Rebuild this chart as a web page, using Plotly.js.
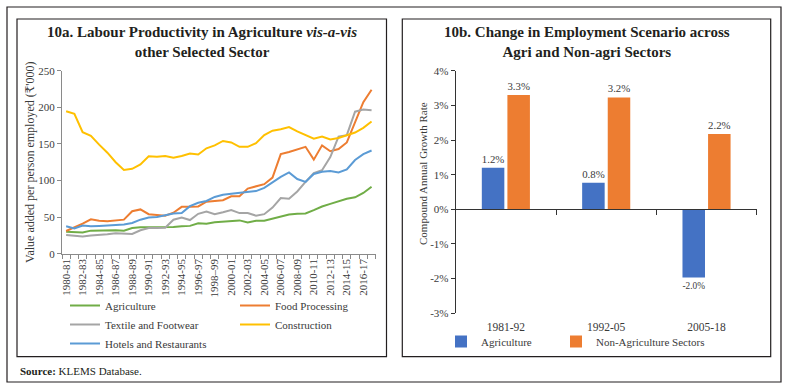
<!DOCTYPE html>
<html><head><meta charset="utf-8">
<script src="https://cdn.plot.ly/plotly-3.0.1.min.js"></script>
<style>html,body{margin:0;padding:0;background:#fff}#chart{width:788px;height:389px}</style>
</head><body><div id="chart"></div>
<script>
// ---------- Data: 10a ----------
const years = ["1980-81","1981-82","1982-83","1983-84","1984-85","1985-86","1986-87","1987-88","1988-89","1989-90",
  "1990-91","1991-92","1992-93","1993-94","1994-95","1995-96","1996-97","1997-98","1998-99","1999-00",
  "2000-01","2001-02","2002-03","2003-04","2004-05","2005-06","2006-07","2007-08","2008-09","2009-10",
  "2010-11","2011-12","2012-13","2013-14","2014-15","2015-16","2016-17","2017-18"];
const tickLabels = ["1980-81","1982-83","1984-85","1986-87","1988-89","1990-91","1992-93","1994-95","1996-97","1998\u201399",
  "2000-01","2002-03","2004-05","2006-07","2008-09","2010-11","2012-13","2014-15","2016-17"];
const agriculture = [30,30,29,31.5,32,32,32,31.5,35,36,36,35.5,35.5,36.5,37.5,38,41.5,41,43,44,44.5,45.5,42.5,45,45,47.5,50,53.5,54.5,55,59.5,64.5,68,72,75,77,83,91.5];
const foodProcessing = [31,35.5,41,47,45,44.5,45,46.5,58,60.5,54,52.5,52,56,64,64,64.5,71,72,73,78.5,78.5,89,92.5,95,104,136,139,142,146,128.5,148,140,143,152,180,207,224];
const textileFootwear = [25.5,24.5,23.5,25,25.5,26.5,28,27,27,32,35,35,35.5,46.5,49.5,46,54.5,57.5,54,56.5,59.5,55.5,55.5,52,54,63,76,75,85,98,110,114,132,160,162,194,197,196];
const construction = [194.5,191,166,161,149,138,125,114.5,116,122,133,132.5,133.5,131,133.5,137,135.5,144,148,154,152,146,146,151,162,168,170,173,167,162,157,160,156,158,162,165.5,172,180.5];
const hotelsRestaurants = [37.5,34.5,38.5,37.5,38,38.5,39,40,42,46.5,49.5,50,52.5,55,55.5,65,69.5,72,77.5,80.5,82,83,83.5,85.5,90,98,105,111,102,98,109,112,113,111,115,128,136,141];

// ---------- Data: 10b ----------
const periods = ["1981-92","1992-05","2005-18"];
const agriGrowth = [1.2, 0.77, -1.97];
const nonAgriGrowth = [3.3, 3.23, 2.17];
const growthTicks = [-3, -2, -1, 0, 1, 2, 3, 4];

// ---------- helpers ----------
const W = 788, H = 389;
const px = x => x / W;
const py = y => 1 - y / H;
const FONT = 'Liberation Serif, DejaVu Serif, serif';
const TXT = '#3a3a3a';
const AX = '#8a8a8a';
const pct = v => v.toFixed(1) + '%';

const lineTrace = (name, y, color, legend) => ({
  type: 'scatter', mode: 'lines', name, x: years, y,
  line: {color, width: 2}, xaxis: 'x', yaxis: 'y', legend
});

const barText = {family: FONT, size: 11, color: TXT};
const data = [
  lineTrace('Agriculture', agriculture, '#70AD47', 'legend'),
  lineTrace('Food Processing', foodProcessing, '#ED7D31', 'legend2'),
  lineTrace('Textile and Footwear', textileFootwear, '#A5A5A5', 'legend'),
  lineTrace('Construction', construction, '#FFC000', 'legend2'),
  lineTrace('Hotels and Restaurants', hotelsRestaurants, '#5B9BD5', 'legend'),
  {type: 'bar', name: 'Agriculture', x: periods, y: agriGrowth, xaxis: 'x2', yaxis: 'y2',
   marker: {color: '#4472C4'}, legend: 'legend3',
   text: agriGrowth.map(pct), textposition: 'outside', cliponaxis: false, textfont: barText},
  {type: 'bar', name: 'Non-Agriculture Sectors', x: periods, y: nonAgriGrowth, xaxis: 'x2', yaxis: 'y2',
   marker: {color: '#ED7D31'}, legend: 'legend4',
   text: nonAgriGrowth.map(pct), textposition: 'outside', cliponaxis: false, textfont: barText},
  // invisible helper so the zero-line category axis has categories
  {type: 'scatter', mode: 'markers', x: periods, y: nonAgriGrowth, xaxis: 'x3', yaxis: 'y2',
   marker: {opacity: 0}, showlegend: false, hoverinfo: 'skip'}
];

const y2dom = [py(313.3), py(70.7)];
const y2range = [-3, 4];
const zeroPos = y2dom[0] + (0 - y2range[0]) / (y2range[1] - y2range[0]) * (y2dom[1] - y2dom[0]);

const tickfont = {family: FONT, size: 11, color: TXT};
const legendBase = {orientation: 'v', xanchor: 'left', yanchor: 'top', bgcolor: 'rgba(0,0,0,0)',
  borderwidth: 0, font: {family: FONT, size: 11, color: TXT}, tracegroupgap: 0};

const layout = {
  width: W, height: H, margin: {l: 0, r: 0, t: 0, b: 0},
  paper_bgcolor: '#fff', plot_bgcolor: 'rgba(0,0,0,0)',
  font: {family: FONT, color: TXT},
  showlegend: true, barmode: 'group', bargap: 0.49, bargroupgap: 0.12,
  xaxis: {domain: [px(62), px(375.7)], anchor: 'y', type: 'category', range: [-0.5, years.length - 0.5],
    tickmode: 'array', tickvals: years, ticktext: years.map((y, i) => i % 2 === 0 ? tickLabels[i / 2] : ''),
    tickson: 'boundaries', ticks: 'outside', ticklen: 4, tickcolor: AX, showline: true, linecolor: AX, linewidth: 1,
    tickangle: -90, tickfont, showgrid: false, zeroline: false, fixedrange: true},
  yaxis: {domain: [py(253.7), py(70.7)], anchor: 'x', range: [0, 250], dtick: 50, ticks: 'outside', ticklen: 4,
    tickcolor: AX, showline: true, linecolor: AX, linewidth: 1, showgrid: false, zeroline: false, tickfont,
    title: {text: "Value added per person employed (\u20B9'000)", font: {family: FONT, size: 12, color: TXT}, standoff: 1}},
  xaxis2: {domain: [px(455.7), px(756.7)], anchor: 'y2', type: 'category', range: [-0.5, 2.5],
    ticks: '', showline: false, showgrid: false, zeroline: false, ticklabelstandoff: 5,
    tickfont: {family: FONT, size: 11.5, color: TXT}},
  xaxis3: {overlaying: 'x2', anchor: 'free', position: zeroPos, type: 'category', range: [-0.5, 2.5],
    showticklabels: false, tickson: 'boundaries', ticks: 'outside', ticklen: 5, tickcolor: '#333',
    showline: true, linecolor: '#333', linewidth: 1, showgrid: false, zeroline: false},
  yaxis2: {domain: y2dom, anchor: 'x2', range: y2range, tickmode: 'array', tickvals: growthTicks,
    ticktext: growthTicks.map(v => v + '%'), ticks: 'outside', ticklen: 4,
    tickcolor: '#333', showline: true, linecolor: '#333', linewidth: 1, showgrid: false, zeroline: false, tickfont},
  legend: Object.assign({}, legendBase, {x: px(65), y: py(291)}),
  legend2: Object.assign({}, legendBase, {x: px(235), y: py(291)}),
  legend3: Object.assign({}, legendBase, {x: px(441), y: py(327)}),
  legend4: Object.assign({}, legendBase, {x: px(556), y: py(327)}),
  annotations: [
    {xref: 'paper', yref: 'paper', x: px(202), y: py(42), xanchor: 'center', yanchor: 'middle', showarrow: false,
     text: '<b>10a. Labour Productivity in Agriculture <i>vis-a-vis</i><br>other Selected Sector</b>',
     font: {family: FONT, size: 15, color: '#231f20'}},
    {xref: 'paper', yref: 'paper', x: px(587), y: py(42), xanchor: 'center', yanchor: 'middle', showarrow: false,
     text: '<b>10b. Change in Employment Scenario across<br>Agri and Non-agri Sectors</b>',
     font: {family: FONT, size: 15, color: '#231f20'}},
    {xref: 'paper', yref: 'paper', x: px(423), y: py(174), xanchor: 'center', yanchor: 'middle', showarrow: false,
     textangle: -90, text: 'Compound Annual Growth Rate', font: {family: FONT, size: 11, color: TXT}},
    {xref: 'paper', yref: 'paper', x: px(18), y: py(371), xanchor: 'left', yanchor: 'middle', showarrow: false,
     text: '<b>Source:</b> KLEMS Database.', font: {family: FONT, size: 11, color: '#231f20'}}
  ],
  shapes: [
    {type: 'rect', xref: 'paper', yref: 'paper', x0: px(7), x1: px(781), y0: py(382), y1: py(7), line: {color: '#231f20', width: 1.2}},
    {type: 'rect', xref: 'paper', yref: 'paper', x0: px(17), x1: px(386.5), y0: py(356.7), y1: py(19), line: {color: '#231f20', width: 1.2}},
    {type: 'rect', xref: 'paper', yref: 'paper', x0: px(402.3), x1: px(770.7), y0: py(356.7), y1: py(19), line: {color: '#231f20', width: 1.2}}
  ]
};

Plotly.newPlot('chart', data, layout, {staticPlot: true, displayModeBar: false});
</script></body></html>
